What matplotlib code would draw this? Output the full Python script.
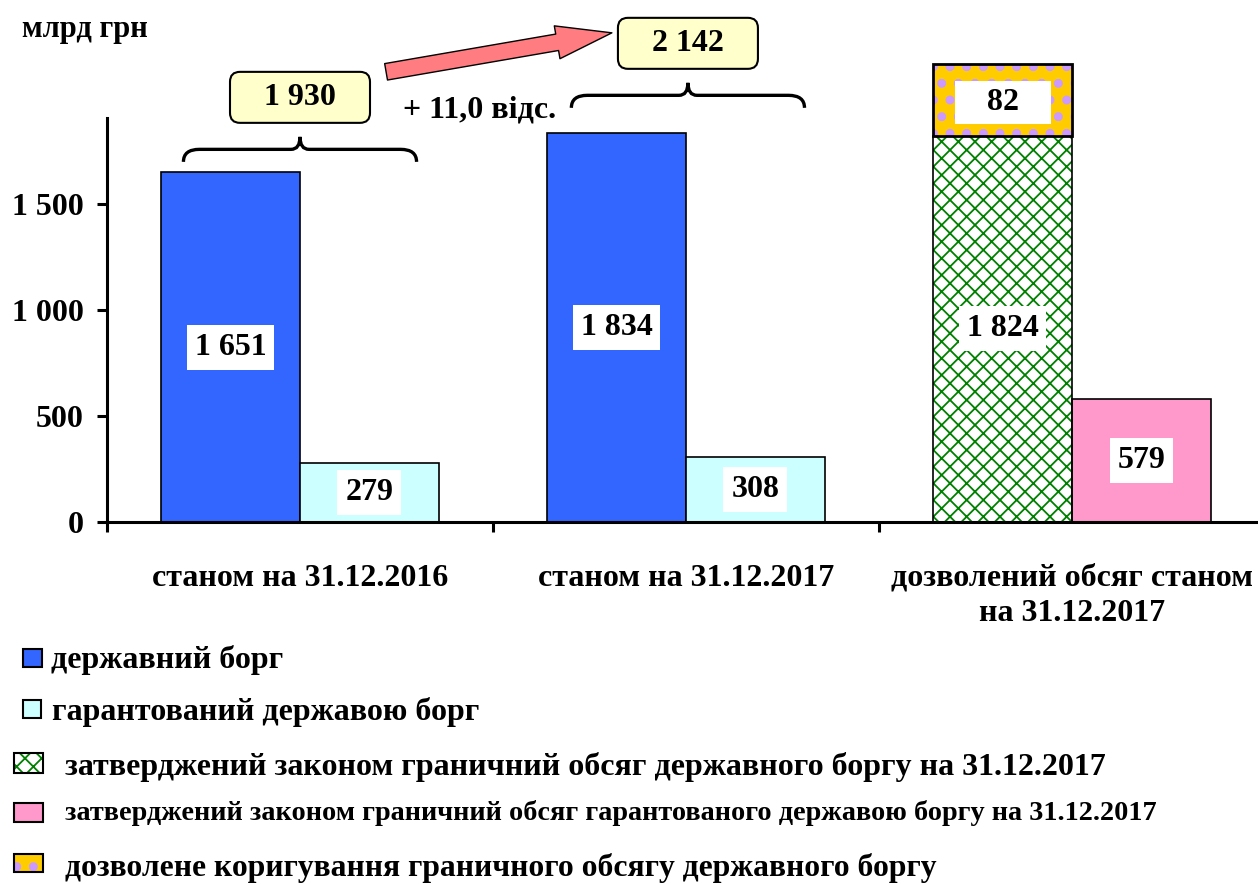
import matplotlib
matplotlib.use("Agg")
import matplotlib.pyplot as plt
from matplotlib.patches import Rectangle, FancyBboxPatch, FancyArrowPatch, PathPatch
from matplotlib.path import Path

plt.rcParams['font.family'] = ['Liberation Serif', 'DejaVu Serif']
plt.rcParams['font.weight'] = 'bold'
plt.rcParams['hatch.linewidth'] = 1.3

# --- data ---
categories = ["станом на 31.12.2016", "станом на 31.12.2017",
              "дозволений обсяг станом\nна 31.12.2017"]
state_debt = [1651, 1834]          # державний борг
guaranteed_debt = [279, 308]       # гарантований державою борг
limit_state = 1824                 # граничний обсяг державного боргу
limit_guaranteed = 579             # граничний обсяг гарантованого боргу
allowed_correction = 82            # дозволене коригування
yticks = [0, 500, 1000, 1500]
unit_label = "млрд грн"
legend_labels = [
    "державний борг",
    "гарантований державою борг",
    "затверджений законом граничний обсяг державного боргу на 31.12.2017",
    "затверджений законом граничний обсяг гарантованого державою боргу на 31.12.2017",
    "дозволене коригування граничного обсягу державного боргу",
]

BLUE = '#3366FF'
CYAN = '#CCFFFF'
GREEN = '#008000'
PINK = '#FF99CC'
GOLD = '#FFCC00'
LAVENDER = '#CC99FF'
YELLOW = '#FFFFCC'
FS = 23


def fmt(v):
    return f"{v:,}".replace(",", " ")


def dotted(p):
    # bigger lavender dots, where the matplotlib version allows it
    if hasattr(p, 'set_hatch_linewidth'):
        p.set_hatch_linewidth(4)
    return p


W, H = 1258, 884
fig = plt.figure(figsize=(W / 100, H / 100), dpi=100)
ax = fig.add_axes([107 / W, (H - 522) / H, (1265 - 107) / W, (522 - 118) / H])
ax.set_xlim(-0.5, 2.5)
ax.set_ylim(0, 1907)

# px -> data scale (for callouts sized like in the original)
py = 1907 / (522 - 118)      # data units per pixel, y
px = 3.0 / (1265 - 107)      # data units per pixel, x

bw = 0.36
ax.bar([i - bw / 2 for i in range(2)], state_debt, bw, color=BLUE,
       edgecolor='black', linewidth=1.2, zorder=2)
ax.bar([i + bw / 2 for i in range(2)], guaranteed_debt, bw, color=CYAN,
       edgecolor='black', linewidth=1.2, zorder=2)
ax.bar(2 - bw / 2, limit_state, bw, facecolor='white', edgecolor=GREEN,
       hatch='xx', linewidth=0, zorder=2)
ax.bar(2 - bw / 2, limit_state, bw, fill=False, edgecolor='black',
       linewidth=1.2, zorder=3)
ax.bar(2 + bw / 2, limit_guaranteed, bw, color=PINK, edgecolor='black',
       linewidth=1.2, zorder=2)

# value labels in white boxes
bar_vals = [(0 - bw / 2, state_debt[0]), (0 + bw / 2, guaranteed_debt[0]),
            (1 - bw / 2, state_debt[1]), (1 + bw / 2, guaranteed_debt[1]),
            (2 - bw / 2, limit_state), (2 + bw / 2, limit_guaranteed)]
for x, v in bar_vals:
    ax.text(x, v / 2, fmt(v), ha='center', va='center', fontsize=FS,
            zorder=5, bbox=dict(boxstyle='square,pad=0.25', fc='white', ec='none'))

# correction callout on top of the limit bar (not to scale, as in the original)
cb_h = 72 * py
ax.add_patch(dotted(Rectangle((2 - bw, limit_state), bw, cb_h, facecolor=GOLD,
                              edgecolor=LAVENDER, hatch='.', linewidth=0,
                              clip_on=False, zorder=3)))
ax.add_patch(Rectangle((2 - bw, limit_state), bw, cb_h, fill=False,
                       edgecolor='black', linewidth=2, clip_on=False, zorder=4))
ax.add_patch(Rectangle((2 - bw / 2 - 48 * px, limit_state + cb_h / 2 - 24 * py),
                       96 * px, 43 * py, facecolor='white', edgecolor='none',
                       clip_on=False, zorder=5))
ax.text(2 - bw / 2, limit_state + cb_h / 2 - 3 * py, fmt(allowed_correction),
        ha='center', va='center', fontsize=FS, zorder=6)

# dotted line from 2017 debt to the limit bar
ax.plot([1 + 0.02, 2 - bw - 0.035], [state_debt[1] + 30] * 2, color='#800080',
        lw=7.5, dashes=(0, 1.1), dash_capstyle='round', clip_on=False, zorder=4)


def brace(xc, half, y0, h):
    q = 16 * px
    t = 9 * px
    ym = y0 + h / 2
    verts = [(xc - half, y0), (xc - half, ym), (xc - half + q, ym),
             (xc - t, ym), (xc, ym), (xc, y0 + h),
             (xc, ym), (xc + t, ym),
             (xc + half - q, ym), (xc + half, ym), (xc + half, y0)]
    codes = [Path.MOVETO, Path.CURVE3, Path.CURVE3,
             Path.LINETO, Path.CURVE3, Path.CURVE3,
             Path.CURVE3, Path.CURVE3,
             Path.LINETO, Path.CURVE3, Path.CURVE3]
    ax.add_patch(PathPatch(Path(verts, codes), fill=False, lw=2.4,
                           edgecolor='black', clip_on=False, zorder=4))


totals = [state_debt[i] + guaranteed_debt[i] for i in range(2)]
brace_base = [1700, 1955]
brace_xc = [0.0, 1.005]
for i in range(2):
    h = 25 * py
    brace(brace_xc[i], 0.302, brace_base[i], h)
    bx_w, bx_h = 140 * px, 51 * py
    yb = brace_base[i] + h + 14 * py
    ax.add_patch(FancyBboxPatch((brace_xc[i] - bx_w / 2, yb), bx_w, bx_h,
                                boxstyle='round,pad=0,rounding_size=%f' % (10 * px),
                                mutation_aspect=py / px, facecolor=YELLOW,
                                edgecolor='black', linewidth=1.5,
                                clip_on=False, zorder=4))
    ax.text(brace_xc[i], yb + bx_h / 2, fmt(totals[i]), ha='center',
            va='center', fontsize=FS, zorder=5)

growth = (totals[1] / totals[0] - 1) * 100
ax.text(0.464, 1945, f"+ {growth:.1f} відс.".replace(".", ",", 1),
        ha='center', va='center', fontsize=FS, zorder=5)

arrow = FancyArrowPatch((0.223, 2125), (0.808, 2309),
                        arrowstyle='simple,head_length=40,head_width=24,tail_width=12',
                        mutation_scale=1, shrinkA=0, shrinkB=0,
                        facecolor='#FF7C80', edgecolor='black', linewidth=1,
                        clip_on=False, zorder=4)
ax.add_patch(arrow)

# axes styling
for s in ['top', 'right']:
    ax.spines[s].set_visible(False)
ax.spines['left'].set_linewidth(2.2)
ax.spines['bottom'].set_linewidth(2.2)
ax.set_yticks(yticks)
ax.set_yticklabels([fmt(v) for v in yticks], fontsize=FS)
ax.tick_params(axis='y', length=7, width=2.2, pad=10)
ax.set_xticks(range(3))
ax.set_xticklabels(categories, fontsize=FS, linespacing=1.3)
ax.set_xticks([-0.5, 0.5, 1.5, 2.5], minor=True)
ax.tick_params(axis='x', which='major', length=0, pad=30)
ax.tick_params(axis='x', which='minor', length=7, width=2.2)

fig.text(22 / W, 1 - 30 / H, unit_label, ha='left', va='center', fontsize=22)

# legend (manual, like the original)
keys = [
    dict(xy=(23, 649, 42, 667), fc=BLUE, ec='black', hatch=None),
    dict(xy=(23, 700, 41, 718), fc=CYAN, ec='black', hatch=None),
    dict(xy=(14, 753, 43, 773), fc='white', ec=GREEN, hatch='xx'),
    dict(xy=(14, 803, 43, 822), fc=PINK, ec='black', hatch=None),
    dict(xy=(14, 854, 43, 872), fc=GOLD, ec=LAVENDER, hatch='.'),
]
text_pos = [(51, 660, 23), (52, 712, 23), (65, 767, 23), (65, 813, 20.3), (65, 868, 22.8)]
for k, (tx, ty, fs), lab in zip(keys, text_pos, legend_labels):
    x0, y0, x1, y1 = k['xy']
    r = Rectangle((x0 / W, 1 - y1 / H), (x1 - x0) / W, (y1 - y0) / H,
                  transform=fig.transFigure, facecolor=k['fc'],
                  edgecolor=k['ec'], hatch=k['hatch'], linewidth=0)
    if k['hatch'] == '.':
        dotted(r)
    fig.add_artist(r)
    fig.add_artist(Rectangle((x0 / W, 1 - y1 / H), (x1 - x0) / W, (y1 - y0) / H,
                             transform=fig.transFigure, fill=False,
                             edgecolor='black', linewidth=1.5))
    fig.text(tx / W, 1 - ty / H, lab, ha='left', va='center', fontsize=fs)

fig.savefig("out.png", dpi=100)
